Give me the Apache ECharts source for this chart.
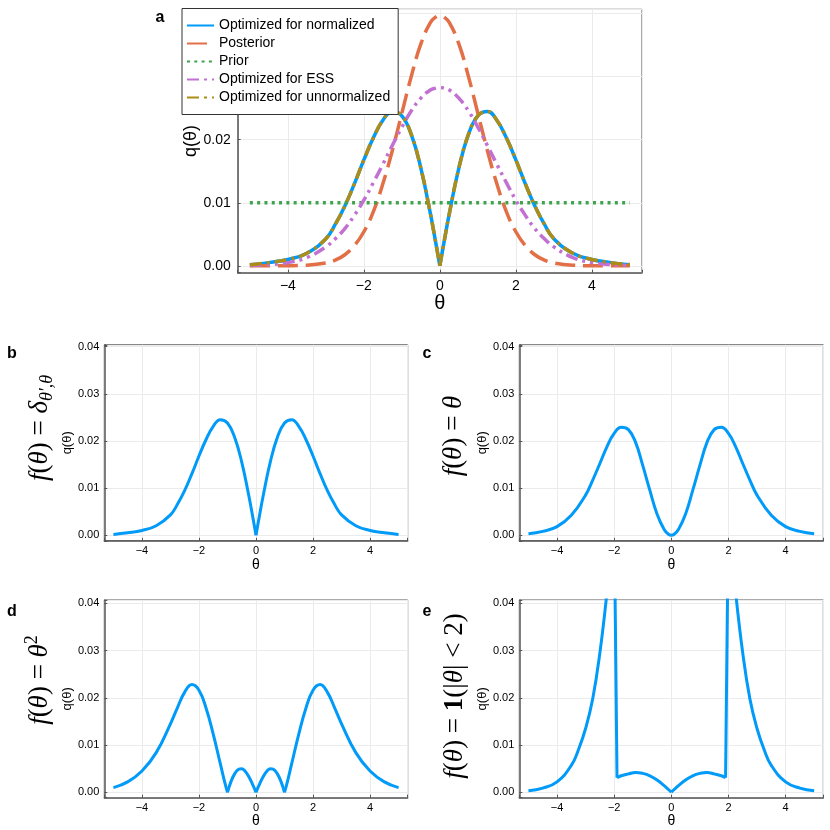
<!DOCTYPE html>
<html>
<head>
<meta charset="utf-8">
<script src="https://cdn.jsdelivr.net/npm/echarts@6/dist/echarts.min.js"></script>
<style>
  html, body { margin: 0; padding: 0; background: #fff; }
  #chart { width: 830px; height: 830px; }
</style>
</head>
<body>
<div id="chart"></div>
<script>
// theta grid used by the curves of panel a and panels b, c
var gridX = [-5, -4.5, -4, -3.5, -3, -2.75, -2.5, -2.25, -2, -1.75, -1.5, -1.25, -1, -0.75, -0.5, -0.25, -0.1, 0,
             0.1, 0.25, 0.5, 0.75, 1, 1.25, 1.5, 1.75, 2, 2.25, 2.5, 2.75, 3, 3.5, 4, 4.5, 5];

// panel a
var normalizedY = [0.00015, 0.0005, 0.0010, 0.0020, 0.0043, 0.0066, 0.0095, 0.0130, 0.0168, 0.0203, 0.0231, 0.0245, 0.0238, 0.0208, 0.0155, 0.0083, 0.0034, 0,
                   0.0034, 0.0083, 0.0155, 0.0208, 0.0238, 0.0245, 0.0231, 0.0203, 0.0168, 0.0130, 0.0095, 0.0066, 0.0043, 0.0020, 0.0010, 0.0005, 0.00015];
var posteriorY = [0, 0, 0.00001, 0.00009, 0.00044, 0.0009, 0.00175, 0.0032, 0.0054, 0.0086, 0.0130, 0.0183, 0.0242, 0.0301, 0.0352, 0.0386, 0.0395, 0.0397,
                  0.0395, 0.0386, 0.0352, 0.0301, 0.0242, 0.0183, 0.0130, 0.0086, 0.0054, 0.0032, 0.00175, 0.0009, 0.00044, 0.00009, 0.00001, 0, 0];
var priorX = [-5, 5];
var priorY = [0.01, 0.01];
var essY = [0.00005, 0.00018, 0.0005, 0.0013, 0.0030, 0.0043, 0.0059, 0.0080, 0.0104, 0.0132, 0.0161, 0.0191, 0.0220, 0.0246, 0.0266, 0.0279, 0.0282, 0.0283,
            0.0282, 0.0279, 0.0266, 0.0246, 0.0220, 0.0191, 0.0161, 0.0132, 0.0104, 0.0080, 0.0059, 0.0043, 0.0030, 0.0013, 0.0005, 0.00018, 0.00005];
var unnormalizedY = [0.00015, 0.0005, 0.0010, 0.0020, 0.0043, 0.0066, 0.0095, 0.0130, 0.0168, 0.0203, 0.0231, 0.0245, 0.0238, 0.0208, 0.0155, 0.0083, 0.0034, 0,
                     0.0034, 0.0083, 0.0155, 0.0208, 0.0238, 0.0245, 0.0231, 0.0203, 0.0168, 0.0130, 0.0095, 0.0066, 0.0043, 0.0020, 0.0010, 0.0005, 0.00015];

// panel b: f = delta
var deltaY = [0.00015, 0.0005, 0.0010, 0.0020, 0.0043, 0.0066, 0.0095, 0.0130, 0.0168, 0.0203, 0.0231, 0.0245, 0.0238, 0.0208, 0.0155, 0.0083, 0.0034, 0,
              0.0034, 0.0083, 0.0155, 0.0208, 0.0238, 0.0245, 0.0231, 0.0203, 0.0168, 0.0130, 0.0095, 0.0066, 0.0043, 0.0020, 0.0010, 0.0005, 0.00015];

// panel c: f = theta
var linearY = [0.0003, 0.0008, 0.0018, 0.0042, 0.0085, 0.0117, 0.0152, 0.0188, 0.0216, 0.0229, 0.0224, 0.0197, 0.0148, 0.0095, 0.0045, 0.0012, 0.0002, 0,
               0.0002, 0.0012, 0.0045, 0.0095, 0.0148, 0.0197, 0.0224, 0.0229, 0.0216, 0.0188, 0.0152, 0.0117, 0.0085, 0.0042, 0.0018, 0.0008, 0.0003];

// panel d: f = theta^2
var squareX = [-5, -4.5, -4, -3.5, -3, -2.75, -2.5, -2.25, -2, -1.75, -1.5, -1.25, -1.1, -1, -0.9, -0.75, -0.6, -0.5, -0.4, -0.25, -0.1, 0,
               0.1, 0.25, 0.4, 0.5, 0.6, 0.75, 0.9, 1, 1.1, 1.25, 1.5, 1.75, 2, 2.25, 2.5, 2.75, 3, 3.5, 4, 4.5, 5];
var squareY = [0.0010, 0.0022, 0.0045, 0.0084, 0.0145, 0.0180, 0.0212, 0.0228, 0.0216, 0.0178, 0.0123, 0.0060, 0.0022, 0, 0.0019, 0.0039, 0.0049, 0.0050, 0.0046, 0.0033, 0.0014, 0,
               0.0014, 0.0033, 0.0046, 0.0050, 0.0049, 0.0039, 0.0019, 0, 0.0022, 0.0060, 0.0123, 0.0178, 0.0216, 0.0228, 0.0212, 0.0180, 0.0145, 0.0084, 0.0045, 0.0022, 0.0010];

// panel e: f = 1(|theta| < 2)
var indicatorX = [-5, -4.5, -4, -3.5, -3.25, -3, -2.75, -2.5, -2.25, -2.1, -2, -1.9, -1.75, -1.5, -1.25, -1, -0.75, -0.5, -0.25, -0.1, 0,
                  0.1, 0.25, 0.5, 0.75, 1, 1.25, 1.5, 1.75, 1.9, 2, 2.1, 2.25, 2.5, 2.75, 3, 3.25, 3.5, 4, 4.5, 5];
var indicatorY = [0.00035, 0.0009, 0.0022, 0.0057, 0.0090, 0.0135, 0.0198, 0.0295, 0.0424, 0.0522, 0.0600, 0.0031, 0.0035, 0.0039, 0.0042, 0.0040, 0.0035, 0.0026, 0.0014, 0.0006, 0,
                  0.0006, 0.0014, 0.0026, 0.0035, 0.0040, 0.0042, 0.0039, 0.0035, 0.0031, 0.0600, 0.0522, 0.0424, 0.0295, 0.0198, 0.0135, 0.0090, 0.0057, 0.0022, 0.0009, 0.00035];

// kinks where a curve must not be smoothed
var deltaKinks = [0];
var squareKinks = [-1, 0, 1];
var indicatorKinks = [-2, -1.9, 0, 1.9, 2];

var legendNames = ['Optimized for normalized', 'Posterior', 'Prior', 'Optimized for ESS', 'Optimized for unnormalized'];

var SANS = '"Liberation Sans", Arial, Helvetica, sans-serif';
var SERIF = '"Liberation Serif", "Times New Roman", serif';
var BLUE = '#009af9', ORANGE = '#e26f46', GREEN = '#3da44d', PURPLE = '#c271d2', OLIVE = '#ac8d18';

// split a curve into pieces at the kinks, the kink point belongs to both pieces
function pieces(xs, ys, kinks) {
    var out = [], cur = [];
    for (var i = 0; i < xs.length; i++) {
        cur.push([xs[i], ys[i]]);
        if (kinks.indexOf(xs[i]) >= 0 && i > 0 && i < xs.length - 1) {
            out.push(cur);
            cur = [[xs[i], ys[i]]];
        }
    }
    out.push(cur);
    return out;
}

function xLabel(v) {
    var r = Math.round(v);
    if (Math.abs(v - r) > 1e-6) return '';
    return r < 0 ? '\u2212' + (-r) : String(r);
}

function yLabel(v) {
    var r = Math.round(v * 100);
    if (Math.abs(v * 100 - r) > 1e-6) return '';
    return (r / 100).toFixed(2);
}

var grids = [], xAxes = [], yAxes = [];

// one framed panel: geometry in px, y range, font sizes
function addPanel(p) {
    grids.push({
        left: p.left, top: p.top, width: p.width, height: p.height,
        show: true, borderColor: '#555', borderWidth: 1, backgroundColor: '#fff'
    });
    var idx = grids.length - 1;
    xAxes.push({
        gridIndex: idx, type: 'value', min: -5.32, max: 5.32, splitNumber: 5,
        name: 'θ', nameLocation: 'middle', nameGap: p.xNameGap,
        nameTextStyle: {fontSize: p.nameSize, fontFamily: SANS, color: '#000'},
        axisLine: {show: true, onZero: false, lineStyle: {color: '#555', width: 1.5}},
        axisTick: {show: true, inside: true, length: 3, lineStyle: {color: '#555'}},
        axisLabel: {formatter: xLabel, fontSize: p.tickSize, fontFamily: SANS, color: '#000', margin: p.xMargin},
        splitLine: {show: true, lineStyle: {color: '#ebebeb', width: 1}}
    });
    yAxes.push({
        gridIndex: idx, type: 'value', min: p.yMin, max: p.yMax, splitNumber: 4,
        name: 'q(θ)', nameLocation: 'middle', nameRotate: 90, nameGap: p.yNameGap,
        nameTextStyle: {fontSize: p.nameSize2, fontFamily: SANS, color: '#000'},
        axisLine: {show: true, onZero: false, lineStyle: {color: '#555', width: 1.5}},
        axisTick: {show: true, inside: true, length: 3, lineStyle: {color: '#555'}},
        axisLabel: {formatter: yLabel, fontSize: p.tickSize, fontFamily: SANS, color: '#000', margin: p.yMargin},
        splitLine: {show: true, lineStyle: {color: '#ebebeb', width: 1}}
    });
    return idx;
}

var aIdx = addPanel({left: 237.7, top: 9.3, width: 404.3, height: 263.4, yMin: -0.0011, yMax: 0.0407,
    tickSize: 14, nameSize: 20, nameSize2: 18, xNameGap: 20, yNameGap: 35, xMargin: 6, yMargin: 7});
var bIdx = addPanel({left: 104.3, top: 344.8, width: 303.4, height: 196, yMin: -0.0012, yMax: 0.0404,
    tickSize: 11, nameSize: 14, nameSize2: 13, xNameGap: 15, yNameGap: 26, xMargin: 5, yMargin: 5});
var cIdx = addPanel({left: 519.3, top: 344.8, width: 304, height: 196, yMin: -0.0012, yMax: 0.0404,
    tickSize: 11, nameSize: 14, nameSize2: 13, xNameGap: 15, yNameGap: 26, xMargin: 5, yMargin: 5});
var dIdx = addPanel({left: 104.3, top: 600, width: 303.4, height: 197.7, yMin: -0.00114, yMax: 0.0407,
    tickSize: 11, nameSize: 14, nameSize2: 13, xNameGap: 15, yNameGap: 26, xMargin: 5, yMargin: 5});
var eIdx = addPanel({left: 519.3, top: 600, width: 304, height: 197.7, yMin: -0.00114, yMax: 0.0407,
    tickSize: 11, nameSize: 14, nameSize2: 13, xNameGap: 15, yNameGap: 26, xMargin: 5, yMargin: 5});

var series = [];

// adds one curve (possibly in several smoothed pieces) to a panel
function addCurve(name, idx, xs, ys, kinks, color, width, dash, z) {
    pieces(xs, ys, kinks).forEach(function (seg) {
        series.push({
            name: name, type: 'line', xAxisIndex: idx, yAxisIndex: idx,
            data: seg, symbol: 'none', clip: true, z: z,
            smooth: seg.length > 2 ? 0.45 : false,
            lineStyle: {color: color, width: width, type: dash, cap: 'butt', join: 'round'},
            itemStyle: {color: color},
            emphasis: {disabled: true}, animation: false
        });
    });
}

addCurve(legendNames[0], aIdx, gridX, normalizedY, deltaKinks, BLUE, 3.5, 'solid', 2);
addCurve(legendNames[1], aIdx, gridX, posteriorY, [], ORANGE, 3.5, [20, 8], 3);
addCurve(legendNames[2], aIdx, priorX, priorY, [], GREEN, 3.5, [3, 4.3], 3);
addCurve(legendNames[3], aIdx, gridX, essY, [], PURPLE, 3.5, [12, 5, 3, 5, 3, 5], 3);
addCurve(legendNames[4], aIdx, gridX, unnormalizedY, deltaKinks, OLIVE, 3.5, [12, 5, 3, 5], 3);
addCurve('b', bIdx, gridX, deltaY, deltaKinks, BLUE, 3, 'solid', 2);
addCurve('c', cIdx, gridX, linearY, [], BLUE, 3, 'solid', 2);
addCurve('d', dIdx, squareX, squareY, squareKinks, BLUE, 3, 'solid', 2);
addCurve('e', eIdx, indicatorX, indicatorY, indicatorKinks, BLUE, 3, 'solid', 2);

function letter(t, x, y) {
    return {type: 'text', x: x, y: y, z: 10,
        style: {text: t, fontSize: 16, fontWeight: 'bold', fontFamily: SANS, fill: '#000', align: 'center', verticalAlign: 'middle'}};
}

var richMath = {
    i: {fontFamily: SERIF, fontStyle: 'italic', fontSize: 27, lineHeight: 36, verticalAlign: 'middle'},
    n: {fontFamily: SERIF, fontSize: 27, lineHeight: 36, verticalAlign: 'middle'},
    bf: {fontFamily: SERIF, fontWeight: 'bold', fontSize: 27, lineHeight: 36, verticalAlign: 'middle'},
    sub: {fontFamily: SERIF, fontStyle: 'italic', fontSize: 18, lineHeight: 36, verticalAlign: 'bottom', padding: [0, 0, 2, 0]},
    sup: {fontFamily: SERIF, fontSize: 18, lineHeight: 36, verticalAlign: 'top', padding: [1, 0, 0, 0]}
};

function mathLabel(text, x, y) {
    return {type: 'text', x: x, y: y, rotation: Math.PI / 2, z: 10,
        style: {text: text, rich: richMath, fill: '#000', align: 'center', verticalAlign: 'middle'}};
}

var graphics = [
    letter('a', 160, 18),
    letter('b', 12, 354),
    letter('c', 427, 354),
    letter('d', 12, 612),
    letter('e', 427, 612),
    mathLabel('{i|f}{n|(}{i|θ}{n|) = }{i|δ}{sub|θ\u2032,θ}', 40, 428),
    mathLabel('{i|f}{n|(}{i|θ}{n|) = }{i|θ}', 454, 436),
    mathLabel('{i|f}{n|(}{i|θ}{n|) = }{i|θ}{sup|2}', 40, 680),
    mathLabel('{i|f}{n|(}{i|θ}{n|) = }{bf|1}{n|(|}{i|θ}{n|| < 2)}', 455, 696)
];

var chart = echarts.init(document.getElementById('chart'), null, {renderer: 'canvas'});
chart.setOption({
    animation: false,
    backgroundColor: '#fff',
    grid: grids,
    xAxis: xAxes,
    yAxis: yAxes,
    legend: {
        data: legendNames, orient: 'vertical', left: 182, top: 8.5, z: 20,
        backgroundColor: '#fff', borderColor: '#333', borderWidth: 1, borderRadius: 0,
        padding: [10, 8, 10, 4], itemWidth: 27, itemHeight: 14, itemGap: 4,
        itemStyle: {opacity: 0},
        selectedMode: false,
        textStyle: {fontSize: 14, fontFamily: SANS, color: '#000', padding: [0, 0, 0, 0]}
    },
    series: series,
    graphic: graphics
});
</script>
</body>
</html>
